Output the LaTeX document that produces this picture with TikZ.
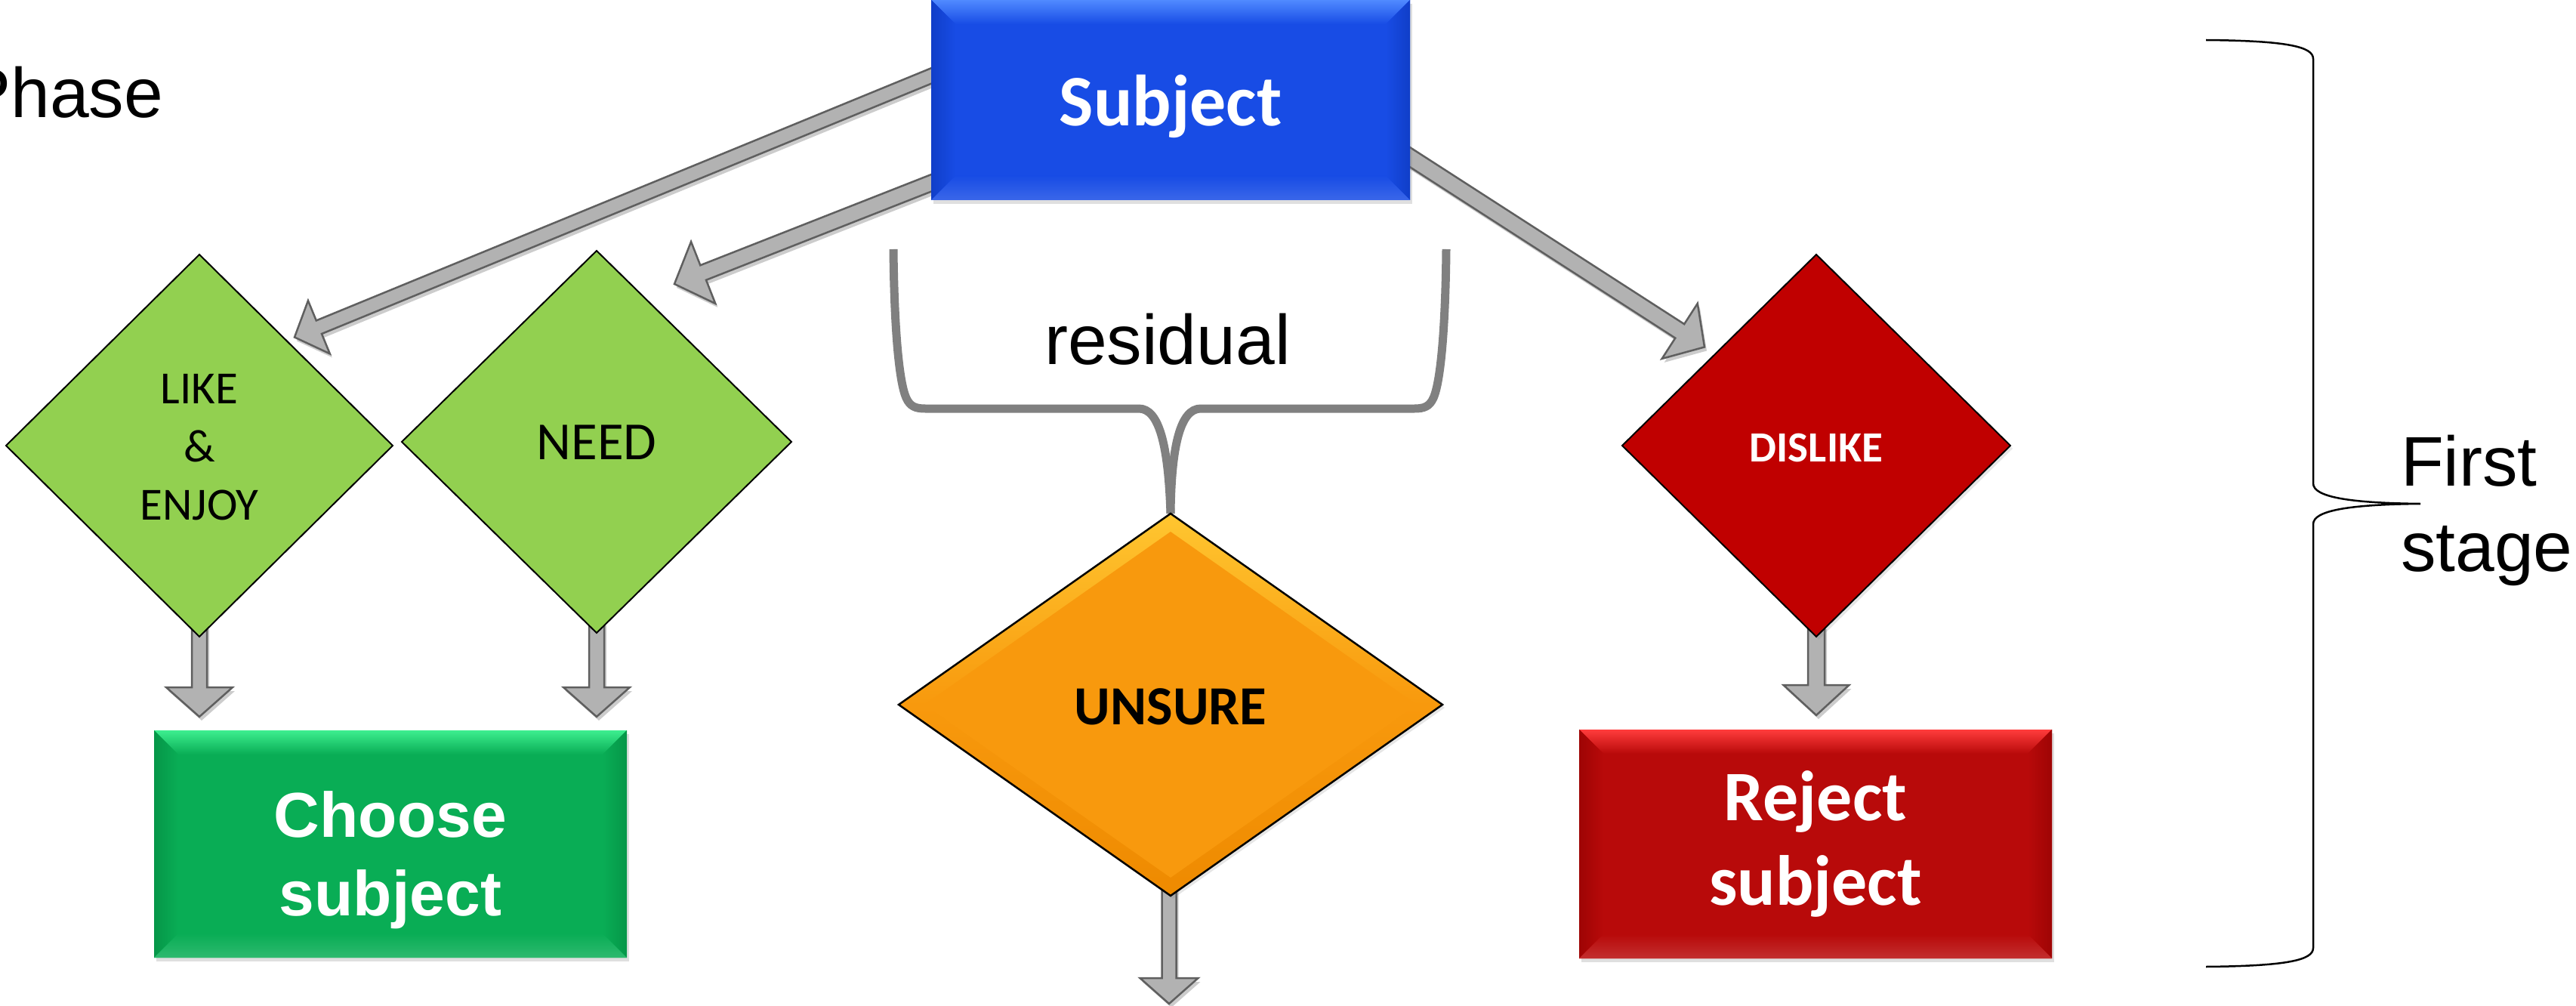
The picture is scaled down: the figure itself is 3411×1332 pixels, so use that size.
\documentclass[tikz,border=0pt]{standalone}
\usepackage{fontspec}
\setmainfont{Liberation Sans}
\newfontfamily\calib{Carlito}
\usetikzlibrary{calc,shapes.geometric,backgrounds,shadows}

\definecolor{subjblue}{RGB}{24,76,229}
\definecolor{subjlight}{RGB}{80,138,255}
\definecolor{subjdark}{RGB}{16,62,200}
\definecolor{dgreen}{RGB}{146,208,80}
\definecolor{cgreen}{RGB}{9,173,85}
\definecolor{cgreenlight}{RGB}{61,238,143}
\definecolor{cgreendark}{RGB}{6,150,72}
\definecolor{uorange}{RGB}{248,153,13}
\definecolor{uorangelight}{RGB}{255,198,48}
\definecolor{uorangedark}{RGB}{238,138,0}
\definecolor{dred}{RGB}{192,0,0}
\definecolor{rred}{RGB}{184,10,10}
\definecolor{rredlight}{RGB}{255,60,60}
\definecolor{rreddark}{RGB}{158,4,4}
\definecolor{arrfill}{RGB}{178,178,178}
\definecolor{arrline}{RGB}{95,95,95}
\definecolor{bracegray}{RGB}{128,128,128}

% start, tip, half shaft, half head, head length
\newcommand{\blockarr}[5]{%
  \path[fill=black!20,transform canvas={xshift=3pt,yshift=-5pt}]
    ($(#1)!#3!-90:(#2)$) -- ($(#2)!#5!(#1)!#3!90:(#1)$) -- ($(#2)!#5!(#1)!#4!90:(#1)$) -- (#2)
    -- ($(#2)!#5!(#1)!#4!-90:(#1)$) -- ($(#2)!#5!(#1)!#3!-90:(#1)$) -- ($(#1)!#3!90:(#2)$) -- cycle;
  \path[blockarrow]
    ($(#1)!#3!-90:(#2)$) -- ($(#2)!#5!(#1)!#3!90:(#1)$) -- ($(#2)!#5!(#1)!#4!90:(#1)$) -- (#2)
    -- ($(#2)!#5!(#1)!#4!-90:(#1)$) -- ($(#2)!#5!(#1)!#3!-90:(#1)$) -- ($(#1)!#3!90:(#2)$) -- cycle;
}

\tikzset{
  blockarrow/.style={fill=arrfill, draw=arrline, line width=2.5pt, line join=miter},
  boxnode/.style={rectangle, inner sep=0pt, outer sep=0pt, text=white, align=center,
    text depth=0pt, drop shadow={shadow xshift=3pt, shadow yshift=-5pt, opacity=0.25}},
  dia/.style={diamond, draw=black, line width=2pt, inner sep=0pt, outer sep=0pt,
    align=center, text depth=0pt},
  txt/.style={inner sep=0pt, outer sep=0pt, font=\fontsize{93}{113}\selectfont},
  bevel/.style n args={4}{path picture={
    \coordinate (bnw) at (path picture bounding box.north west);
    \coordinate (bne) at (path picture bounding box.north east);
    \coordinate (bse) at (path picture bounding box.south east);
    \coordinate (bsw) at (path picture bounding box.south west);
    \fill[top color=#1,bottom color=#2] (bnw) -- (bne) -- ($(bne)+(-32,32)$) -- ($(bnw)+(32,32)$) -- cycle;
    \fill[left color=#3,right color=#2] (bnw) -- ($(bnw)+(32,32)$) -- ($(bsw)+(32,-32)$) -- (bsw) -- cycle;
    \fill[left color=#2,right color=#3] (bne) -- ($(bne)+(-32,32)$) -- ($(bse)+(-32,-32)$) -- (bse) -- cycle;
    \fill[top color=#2,bottom color=#4] (bsw) -- ($(bsw)+(32,-32)$) -- ($(bse)+(-32,-32)$) -- (bse) -- cycle;
  }},
}

\begin{document}
\begin{tikzpicture}[x=1pt,y=-1pt]
\useasboundingbox (0,0) rectangle (3411,1332);

% boxes
\node[boxnode, fill=subjblue, bevel={subjlight}{subjblue}{subjdark}{subjblue!85!white},
  minimum width=634pt, minimum height=265pt, text height=69pt,
  font=\calib\bfseries\fontsize{96}{110}\selectfont] (subj) at (1550,132.5) {Subject};

\node[boxnode, fill=cgreen, bevel={cgreenlight}{cgreen}{cgreendark}{cgreen!85!white},
  minimum width=626pt, minimum height=301pt, text height=189pt,
  font=\bfseries\fontsize{84}{104}\selectfont] (choose) at (517,1117.5) {Choose\\subject};

\node[boxnode, fill=rred, bevel={rredlight}{rred}{rreddark}{rred!85!white},
  minimum width=626pt, minimum height=303pt, text height=161pt,
  font=\calib\bfseries\fontsize{94}{112}\selectfont] (reject) at (2404,1117.5) {Reject\\subject};

% diamonds
\node[dia, fill=dgreen, minimum width=512pt, minimum height=506pt, text height=196pt,
  font=\calib\fontsize{61}{77}\selectfont] (like) at (264,590) {LIKE\\\&\\ENJOY};

\node[dia, fill=dgreen, minimum width=516pt, minimum height=506pt, text height=46pt,
  font=\calib\fontsize{71}{85}\selectfont] (need) at (790,585) {NEED};

\node[dia, line width=2.5pt, top color=uorangelight, bottom color=uorangedark, middle color=uorange,
  minimum width=720pt, minimum height=506pt, text height=52pt,
  drop shadow={shadow xshift=3pt, shadow yshift=-4pt, opacity=0.2},
  path picture={\fill[uorange] ($(path picture bounding box.north)+(0,24)$) -- ($(path picture bounding box.east)+(-34,0)$) -- ($(path picture bounding box.south)+(0,-24)$) -- ($(path picture bounding box.west)+(34,0)$) -- cycle;},
  font=\calib\bfseries\fontsize{73}{88}\selectfont] (unsure) at (1550,933) {UNSURE};

\node[dia, fill=dred, text=white, minimum width=514pt, minimum height=506pt, text height=42pt,
  drop shadow={shadow xshift=3pt, shadow yshift=-4pt, opacity=0.2},
  font=\calib\bfseries\fontsize{57}{68}\selectfont] (dislike) at (2405,590) {DISLIKE};

% texts
\node[txt, anchor=base east] (phase) at (216,156) {Phase};
\node[txt, anchor=base] (resid) at (1546,482) {residual};
\node[txt, anchor=west, align=left, text height=0pt, text depth=0pt] (first) at (3179,756) {First\\stage};

% connector coordinates
\coordinate (a1s) at ($(subj.west)+(67,-59.5)$);
\coordinate (a1t) at ($(like.north east)+(-2,-17)$);
\coordinate (a2s) at ($(subj.west)+(67,83.5)$);
\coordinate (a2t) at ($(need.north)+(103,44)$);
\coordinate (a3s) at ($(subj.east)+(-67,32.5)$);
\coordinate (a3t) at ($(dislike.north west)+(-19.5,-4)$);
\coordinate (d1s) at ($(like.south)+(0,-15)$);
\coordinate (d1t) at ($(like.south |- choose.north)+(0,-18)$);
\coordinate (d2s) at ($(need.south)+(0,-15)$);
\coordinate (d2t) at ($(need.south |- choose.north)+(0,-18)$);
\coordinate (d3s) at ($(dislike.south)+(0,-15)$);
\coordinate (d3t) at ($(dislike.south |- reject.north)+(0,-19)$);
\coordinate (d4s) at ($(unsure.south)+(-2,-15)$);
\coordinate (d4t) at ($(unsure.south)+(-2,143)$);

\begin{scope}[on background layer]
  \blockarr{a1s}{a1t}{9.5pt}{38pt}{35pt}
  \blockarr{a2s}{a2t}{10.5pt}{44pt}{41pt}
  \blockarr{a3s}{a3t}{11pt}{43.5pt}{39pt}
  \blockarr{d1s}{d1t}{10pt}{44pt}{39pt}
  \blockarr{d2s}{d2t}{10pt}{44pt}{39pt}
  \blockarr{d3s}{d3t}{11pt}{43.5pt}{40pt}
  \blockarr{d4s}{d4t}{9.5pt}{38.5pt}{34pt}
  % residual brace
  \draw[bracegray, line width=11pt, line join=round]
    (1183,330) .. controls (1184,430) and (1190,505) .. (1200,527)
    .. controls (1205,538) and (1212,541) .. (1225,541) -- (1508,541)
    .. controls (1535,541) and (1547,590) .. (unsure.north);
  \draw[bracegray, line width=11pt, line join=round]
    (1915,330) .. controls (1914,430) and (1908,505) .. (1898,527)
    .. controls (1893,538) and (1886,541) .. (1873,541) -- (1590,541)
    .. controls (1563,541) and (1551,590) .. (unsure.north);
\end{scope}

% right brace
\draw[line width=2.5pt]
  (2921,53) .. controls (3030,54) and (3063,62) .. (3063,78) -- (3063,640)
  .. controls (3063,658) and (3110,666) .. (3205,667)
  .. controls (3110,668) and (3063,676) .. (3063,694) -- (3063,1255)
  .. controls (3063,1271) and (3030,1279) .. (2921,1280);
\end{tikzpicture}
\end{document}
